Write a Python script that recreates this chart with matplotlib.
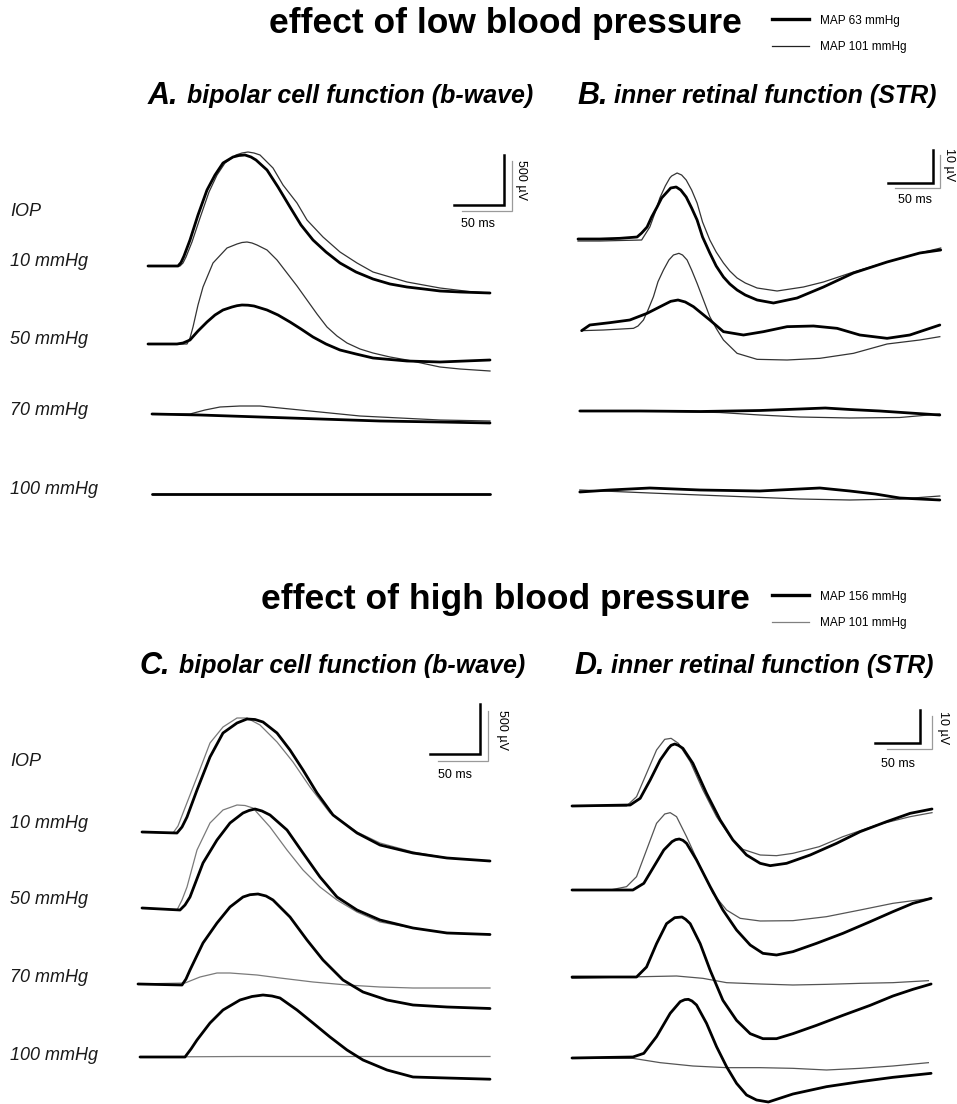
import matplotlib
matplotlib.use("Agg")
import numpy as np
import matplotlib.pyplot as plt
from matplotlib.lines import Line2D

# ---- data: time (ms) and amplitude (uV) per trace, each row relative to its own baseline
iop_labels = ["10 mmHg", "50 mmHg", "70 mmHg", "100 mmHg"]
low_labels = ["MAP 63 mmHg", "MAP 101 mmHg"]
high_labels = ["MAP 156 mmHg", "MAP 101 mmHg"]

# A. b-wave, low BP (bold = MAP 63, thin = MAP 101)
A_10_bold_t = [0, 30, 33, 36, 42, 50, 59, 67, 75, 85, 91, 97, 103, 108, 119, 130, 142, 153, 165, 178, 192, 208, 225, 242, 259, 276, 292, 312, 342]
A_10_bold_v = [0, 0, 35, 100, 260, 510, 760, 910, 1030, 1090, 1105, 1110, 1090, 1060, 960, 790, 590, 410, 260, 140, 30, -60, -130, -180, -210, -230, -250, -260, -270]
A_10_thin_t = [0, 32, 35, 38, 44, 52, 61, 69, 77, 88, 94, 100, 106, 112, 125, 135, 149, 159, 175, 192, 209, 225, 259, 292, 325, 342]
A_10_thin_v = [0, 0, 30, 90, 240, 480, 740, 910, 1030, 1110, 1130, 1140, 1130, 1110, 980, 810, 630, 460, 290, 140, 30, -60, -160, -220, -260, -270]
A_50_bold_t = [0, 29, 35, 42, 50, 59, 67, 75, 84, 89, 94, 100, 106, 119, 130, 142, 153, 165, 178, 192, 208, 225, 259, 292, 342]
A_50_bold_v = [0, 0, 10, 40, 130, 220, 290, 340, 370, 383, 390, 388, 380, 340, 290, 220, 150, 70, 0, -60, -100, -140, -170, -180, -160]
A_50_thin_t = [0, 39, 42, 45, 50, 55, 65, 79, 89, 94, 99, 104, 109, 119, 129, 139, 149, 159, 169, 179, 189, 199, 212, 225, 242, 259, 292, 312, 342]
A_50_thin_v = [0, 0, 60, 170, 390, 570, 810, 960, 1000, 1015, 1020, 1010, 990, 940, 840, 710, 580, 440, 300, 170, 80, 10, -50, -90, -130, -160, -230, -250, -270]
A_70_bold_t = [4, 52, 112, 172, 232, 292, 342]
A_70_bold_v = [0, -10, -30, -50, -70, -80, -90]
A_70_thin_t = [4, 42, 57, 72, 92, 112, 142, 172, 212, 252, 292, 342]
A_70_thin_v = [0, 0, 40, 70, 80, 80, 50, 20, -20, -40, -60, -70]
A_100_bold_t = [4, 90, 180, 270, 342]
A_100_bold_v = [0, 0, 0, 0, 0]
A_100_thin_t = [4, 90, 180, 270, 342]
A_100_thin_v = [0, 0, 0, 0, 0]

# B. STR, low BP
B_10_bold_t = [0, 24, 46, 65, 70, 76, 81, 87, 92, 98, 102, 108, 113, 119, 125, 131, 137, 145, 152, 160, 167, 175, 184, 197, 215, 241, 270, 303, 340, 376, 399]
B_10_bold_v = [0, 0, 0.2, 0.6, 1.8, 3.6, 6.6, 9.6, 12.3, 14.1, 15.3, 15.6, 14.7, 12.6, 9.3, 5.7, 0.6, -4.2, -8.1, -11.4, -13.5, -15.3, -16.8, -18.3, -19.2, -17.7, -14.4, -10.2, -6.9, -4.2, -3.3]
B_10_thin_t = [0, 24, 70, 79, 85, 90, 96, 101, 103, 109, 114, 119, 125, 131, 137, 145, 152, 160, 167, 175, 184, 197, 219, 248, 270, 303, 340, 376, 399]
B_10_thin_v = [-0.6, -0.6, -0.3, 3.6, 8.1, 12.3, 15.9, 18.3, 18.9, 19.8, 19.2, 17.7, 14.7, 10.8, 5.1, -0.3, -3.9, -7.2, -9.6, -11.7, -13.2, -14.7, -15.6, -14.4, -12.9, -9.9, -6.9, -4.2, -2.7]
B_50_bold_t = [4, 13, 35, 57, 76, 94, 102, 110, 118, 127, 145, 160, 182, 204, 230, 259, 285, 310, 340, 365, 387, 398]
B_50_bold_v = [-0.2, 1.5, 2.2, 3, 5, 7.5, 8.6, 9, 8.4, 7, 3, -0.5, -1.5, -0.5, 1, 1.2, 0.5, -1.5, -2.5, -1.5, 0.5, 1.5]
B_50_thin_t = [4, 28, 61, 66, 72, 77, 83, 88, 94, 100, 105, 111, 115, 120, 125, 131, 138, 145, 152, 160, 175, 197, 230, 266, 303, 340, 376, 398]
B_50_thin_v = [-0.2, 0, 0.5, 1.2, 3, 6, 10, 14.5, 18, 21, 22.5, 23, 22.5, 21, 18, 14, 9, 4, 0.5, -3, -7, -8.8, -9, -8.5, -7, -4.2, -3, -2]
B_70_bold_t = [2, 68, 135, 200, 244, 272, 299, 332, 365, 398]
B_70_bold_v = [0, 0, -0.15, 0.15, 0.6, 0.9, 0.45, 0, -0.6, -1.2]
B_70_thin_t = [2, 79, 156, 200, 244, 299, 354, 398]
B_70_thin_v = [0, 0, -0.45, -1.2, -1.8, -2.1, -1.95, -0.9]
B_100_bold_t = [2, 35, 79, 134, 200, 244, 266, 299, 327, 354, 398]
B_100_bold_v = [0, 0.6, 1.2, 0.6, 0.3, 0.9, 1.2, 0.3, -0.6, -1.8, -2.4]
B_100_thin_t = [2, 79, 134, 189, 244, 299, 354, 398]
B_100_thin_v = [0.6, -0.3, -0.9, -1.5, -2.1, -2.4, -2.1, -1.2]

# C. b-wave, high BP (bold = MAP 156, thin = MAP 101)
C_10_bold_t = [0, 35, 40, 45, 55, 68, 81, 95, 105, 113, 121, 135, 148, 161, 175, 191, 215, 238, 271, 305, 348]
C_10_bold_v = [0, -10, 50, 150, 420, 750, 990, 1090, 1130, 1125, 1100, 990, 820, 620, 390, 170, -10, -130, -210, -260, -290]
C_10_thin_t = [0, 31, 36, 41, 55, 68, 81, 95, 105, 118, 135, 151, 168, 188, 215, 238, 271, 305, 348]
C_10_thin_v = [0, -10, 60, 190, 550, 890, 1050, 1140, 1140, 1070, 900, 700, 450, 190, 0, -110, -200, -260, -290]
C_50_bold_t = [0, 38, 43, 48, 61, 75, 88, 101, 107, 113, 120, 128, 145, 161, 178, 195, 215, 238, 271, 305, 348]
C_50_bold_v = [0, -20, 30, 110, 450, 680, 850, 950, 975, 990, 970, 930, 780, 550, 310, 110, -20, -120, -200, -250, -265]
C_50_thin_t = [0, 35, 40, 45, 55, 68, 81, 95, 103, 111, 128, 145, 161, 178, 195, 215, 238, 271, 305, 348]
C_50_thin_v = [0, -20, 80, 210, 580, 850, 980, 1030, 1025, 1000, 810, 580, 380, 210, 80, -40, -140, -200, -250, -265]
C_70_bold_t = [-4, 40, 44, 48, 61, 75, 88, 101, 108, 116, 124, 131, 148, 165, 181, 201, 221, 245, 271, 305, 348]
C_70_bold_v = [0, -10, 50, 140, 410, 610, 770, 870, 893, 900, 880, 840, 670, 440, 240, 40, -80, -160, -210, -230, -245]
C_70_thin_t = [-4, 43, 58, 75, 88, 115, 138, 171, 205, 238, 271, 305, 348]
C_70_thin_v = [0, 10, 70, 110, 110, 90, 60, 20, -10, -30, -40, -40, -40]
C_100_bold_t = [-2, 43, 49, 55, 68, 81, 98, 110, 121, 130, 138, 155, 171, 188, 205, 221, 245, 271, 305, 348]
C_100_bold_v = [0, 0, 80, 170, 340, 470, 570, 605, 620, 610, 590, 470, 340, 200, 70, -30, -130, -200, -210, -222]
C_100_thin_t = [-2, 100, 200, 348]
C_100_thin_v = [0, 5, 5, 5]

# D. STR, high BP
D_10_bold_t = [0, 64, 75, 86, 97, 106, 109, 113, 117, 122, 133, 148, 163, 177, 192, 207, 218, 236, 262, 291, 317, 346, 372, 396]
D_10_bold_v = [0, 0.3, 2.3, 7.8, 13.8, 17.3, 18.2, 18.6, 18.2, 17.3, 12.8, 3.8, -4.2, -10.2, -14.7, -17.2, -17.9, -17.2, -14.7, -11.2, -7.7, -4.7, -2.2, -0.9]
D_10_thin_t = [0, 60, 71, 82, 93, 102, 109, 117, 130, 144, 159, 174, 188, 207, 225, 243, 272, 298, 335, 372, 396]
D_10_thin_v = [0, 0, 2.8, 9.8, 16.8, 20, 20.3, 18.8, 13.3, 4.8, -3.2, -9.2, -13, -14.7, -14.9, -14.2, -12.2, -9.2, -5.7, -3.2, -2]
D_50_bold_t = [0, 67, 79, 90, 101, 110, 114, 118, 122, 126, 137, 152, 166, 181, 196, 210, 225, 243, 269, 298, 328, 353, 375, 395]
D_50_bold_v = [0, 0, 2, 7, 12, 14.5, 15.1, 15.3, 14.9, 14, 9, 1, -6, -12, -16.5, -19, -19.5, -18.5, -16, -13, -9.5, -6.5, -4, -2.5]
D_50_thin_t = [0, 42, 60, 71, 82, 93, 102, 108, 115, 126, 141, 155, 170, 185, 207, 243, 280, 317, 353, 375, 395]
D_50_thin_v = [0, 0, 1, 4, 12, 20, 22.8, 23.2, 22, 16, 7, -1, -6, -8.5, -9.3, -9.2, -8, -6, -4, -3.2, -2.5]
D_70_bold_t = [0, 71, 82, 93, 104, 113, 121, 125, 130, 141, 152, 166, 181, 196, 210, 225, 243, 269, 298, 328, 353, 375, 395]
D_70_bold_v = [0, 0, 3, 10, 16, 17.8, 18, 17.3, 16, 10, 2, -7, -13, -17, -18.5, -18.5, -17, -14.5, -11.5, -8.5, -5.7, -3.7, -2.1]
D_70_thin_t = [0, 60, 115, 144, 170, 207, 243, 280, 317, 353, 392]
D_70_thin_v = [-0.4, 0, 0.3, -0.4, -1.7, -2.1, -2.4, -2.2, -1.9, -1.7, -1.1]
D_100_bold_t = [0, 67, 79, 93, 108, 119, 124, 128, 132, 137, 148, 159, 170, 181, 192, 203, 216, 243, 280, 317, 353, 395]
D_100_bold_v = [0, 0.3, 1.4, 6.4, 13.4, 16.9, 17.5, 17.6, 17.1, 15.9, 10.4, 3.4, -2.6, -7.6, -11.1, -12.6, -13.2, -10.8, -8.6, -7.1, -5.8, -4.6]
D_100_thin_t = [0, 67, 97, 133, 170, 207, 243, 280, 317, 353, 392]
D_100_thin_v = [0, -0.1, -1.4, -2.4, -2.9, -2.9, -3.1, -3.6, -3.1, -2.4, -1.4]

W, H = 957, 1104
fig = plt.figure(figsize=(W / 100, H / 100), dpi=100)
fig.patch.set_facecolor("white")

HEAD = ["Liberation Sans Narrow", "Liberation Sans", "DejaVu Sans"]
SANS = ["Liberation Sans", "DejaVu Sans"]


def fx(x):
    return x / W


def fy(y):
    return 1 - y / H


def px_axes(x0, y0, sx, sy, left, top, right, bottom):
    # axes whose data (ms, uV) map linearly onto a pixel box
    ax = fig.add_axes([fx(left), fy(bottom), (right - left) / W, (bottom - top) / H])
    ax.set_xlim((left - x0) / sx, (right - x0) / sx)
    ax.set_ylim((y0 - bottom) / sy, (y0 - top) / sy)
    ax.axis("off")
    return ax


def scale_bar(ax, t0, v0, dt, dv, gap_t, gap_v, vlabel, tlab, vlab):
    ax.plot([t0 + gap_t, t0 + gap_t + dt, t0 + gap_t + dt],
            [v0 - gap_v, v0 - gap_v, v0 - gap_v + dv], color="#9a9a9a", lw=0.9,
            solid_joinstyle="miter")
    ax.plot([t0, t0 + dt, t0 + dt], [v0, v0, v0 + dv], color="black", lw=1.8,
            solid_joinstyle="miter")
    ax.text(tlab[0], tlab[1], "50 ms", ha="center", va="center", fontsize=9, family=SANS)
    ax.text(vlab[0], vlab[1], vlabel, ha="center", va="center", fontsize=9,
            rotation=270, family=SANS)


def draw_panel(ax, traces, offsets, thin_color):
    for (bt, bv, tt, tv), off in zip(traces, offsets):
        ax.plot(tt, np.array(tv) + off, color=thin_color, lw=0.9, solid_joinstyle="round")
        ax.plot(bt, np.array(bv) + off, color="black", lw=2.0, solid_joinstyle="round",
                solid_capstyle="round")


# titles + legends
for title, ty, labels, thin_c in [("effect of low blood pressure", 24, low_labels, "#222222"),
                                  ("effect of high blood pressure", 600, high_labels, "#808080")]:
    fig.text(fx(505), fy(ty), title, ha="center", va="center", fontsize=25.5,
             fontweight="bold", family=SANS)
    handles = [Line2D([], [], color="black", lw=2.4), Line2D([], [], color=thin_c, lw=0.9)]
    fig.legend(handles, labels, loc="center left", bbox_to_anchor=(fx(772), fy(ty + 10)),
               frameon=False, handlelength=3.1, handletextpad=1.0,
               labelspacing=1.25, borderpad=0, borderaxespad=0,
               prop={"family": SANS, "size": 8.5})

# panel headers
headers = [("A.", "bipolar cell function (b-wave)", 148, 187, 96),
           ("B.", "inner retinal function (STR)", 577, 614, 96),
           ("C.", "bipolar cell function (b-wave)", 140, 179, 666),
           ("D.", "inner retinal function (STR)", 574, 611, 666)]
for letter, text, xl, xt, yh in headers:
    fig.text(fx(xl), fy(yh), letter, ha="left", va="center", fontsize=22,
             fontweight="bold", style="italic", family=HEAD)
    fig.text(fx(xt), fy(yh), text, ha="left", va="center", fontsize=18,
             fontweight="bold", style="italic", family=HEAD)

# IOP row labels
for ys in ([211, 261, 339, 411, 490], [762, 824, 899, 978, 1056]):
    for lab, y in zip(["IOP"] + iop_labels, ys):
        fig.text(fx(10), fy(y), lab, ha="left", va="center", fontsize=13,
                 style="italic", family=SANS, color="#1a1a1a")

# panel A
axA = px_axes(148, 266, 1.0, 0.1, 125, 130, 545, 520)
draw_panel(axA, [(A_10_bold_t, A_10_bold_v, A_10_thin_t, A_10_thin_v),
                 (A_50_bold_t, A_50_bold_v, A_50_thin_t, A_50_thin_v),
                 (A_70_bold_t, A_70_bold_v, A_70_thin_t, A_70_thin_v),
                 (A_100_bold_t, A_100_bold_v, A_100_thin_t, A_100_thin_v)],
           [0, -780, -1480, -2280], "#333333")
scale_bar(axA, 306, 610, 50, 500, 8, 60, "500 \u00b5V", (330, 420), (373, 860))

# panel B
axB = px_axes(578, 239, 1 / 1.1, 1 / 0.3, 565, 130, 957, 520)
draw_panel(axB, [(B_10_bold_t, B_10_bold_v, B_10_thin_t, B_10_thin_v),
                 (B_50_bold_t, B_50_bold_v, B_50_thin_t, B_50_thin_v),
                 (B_70_bold_t, B_70_bold_v, B_70_thin_t, B_70_thin_v),
                 (B_100_bold_t, B_100_bold_v, B_100_thin_t, B_100_thin_v)],
           [0, -27.3, -51.6, -75.9], "#333333")
scale_bar(axB, 341, 16.8, 50, 10, 7.5, 1.5, "10 \u00b5V", (371, 11.7), (408, 22.2))

# panel C
axC = px_axes(142, 832, 1.0, 0.1, 120, 690, 545, 1104)
draw_panel(axC, [(C_10_bold_t, C_10_bold_v, C_10_thin_t, C_10_thin_v),
                 (C_50_bold_t, C_50_bold_v, C_50_thin_t, C_50_thin_v),
                 (C_70_bold_t, C_70_bold_v, C_70_thin_t, C_70_thin_v),
                 (C_100_bold_t, C_100_bold_v, C_100_thin_t, C_100_thin_v)],
           [0, -760, -1520, -2250], "#7a7a7a")
scale_bar(axC, 288, 780, 50, 500, 8, 70, "500 \u00b5V", (313, 570), (360, 1020))

# panel D
axD = px_axes(572, 806, 1 / 1.1, 1 / 0.3, 560, 690, 957, 1104)
draw_panel(axD, [(D_10_bold_t, D_10_bold_v, D_10_thin_t, D_10_thin_v),
                 (D_50_bold_t, D_50_bold_v, D_50_thin_t, D_50_thin_v),
                 (D_70_bold_t, D_70_bold_v, D_70_thin_t, D_70_thin_v),
                 (D_100_bold_t, D_100_bold_v, D_100_thin_t, D_100_thin_v)],
           [0, -25.2, -51.3, -75.6], "#555555")
scale_bar(axD, 333, 18.9, 50, 10, 13, 1.8, "10 \u00b5V", (359, 12.6), (408, 23.4))

fig.savefig("out.png", dpi=100, facecolor="white")
